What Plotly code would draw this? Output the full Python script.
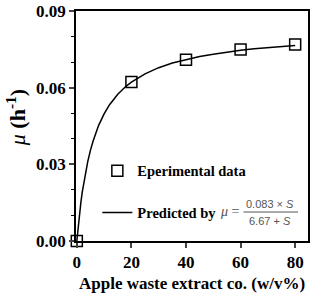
import plotly.graph_objects as go

# Experimental data
conc = [0, 20, 40, 60, 80]
mu_exp = [0.0, 0.0623, 0.0710, 0.0750, 0.0770]

# Predicted curve
conc_fit = [0, 0.5, 1, 1.5, 2, 3, 4, 5, 6, 8, 10, 12, 15, 18, 20, 25, 30, 35, 40, 45, 50, 55, 60, 65, 70, 75, 80]
mu_fit = [0.0, 0.0058, 0.0108, 0.0152, 0.0192, 0.0258, 0.0311, 0.0356, 0.0393, 0.0453, 0.0498, 0.0534, 0.0575, 0.0606, 0.0622, 0.0655, 0.0679, 0.0697, 0.0711, 0.0723, 0.0732, 0.0740, 0.0747, 0.0753, 0.0758, 0.0763, 0.0766]

x_ticks = [0, 20, 40, 60, 80]
y_ticks = [0.00, 0.03, 0.06, 0.09]
y_tick_labels = ["0.00", "0.03", "0.06", "0.09"]

serif = "Liberation Serif"

fig = go.Figure()
fig.add_trace(go.Scatter(
    x=conc_fit, y=mu_fit, mode="lines", name="<b>Predicted by</b>",
    line=dict(color="black", width=1.5), legendgroup="b", legendrank=2,
))
fig.add_trace(go.Scatter(
    x=conc, y=mu_exp, mode="markers", name="<b>Eperimental data</b>",
    marker=dict(symbol="square-open", size=11, color="black", line=dict(width=1.5, color="black")),
    cliponaxis=False, legendgroup="a", legendrank=1,
))

fig.update_layout(
    width=312, height=294,
    margin=dict(l=76, r=2, t=6, b=53),
    plot_bgcolor="white", paper_bgcolor="white",
    font=dict(family=serif, color="black"),
    showlegend=True,
    legend=dict(x=0.092, y=0.375, xanchor="left", yanchor="top",
                font=dict(family=serif, size=14.5, color="black"),
                bgcolor="rgba(0,0,0,0)", tracegroupgap=20, itemwidth=30),
    xaxis=dict(range=[-0.3, 84.7], tickvals=x_ticks, ticks="outside", ticklen=5, tickwidth=1.5,
               showline=True, linecolor="black", linewidth=1.8, mirror=True, showgrid=False, zeroline=False,
               tickfont=dict(family=serif, size=17, color="black", weight="bold")),
    yaxis=dict(range=[0, 0.0901], tickvals=y_ticks, ticktext=y_tick_labels, ticks="outside", ticklen=5, tickwidth=1.5,
               ticklabeloverflow="allow",
               showline=True, linecolor="black", linewidth=1.8, mirror=True, showgrid=False, zeroline=False,
               minor=dict(tickvals=[0.01, 0.02, 0.04, 0.05, 0.07, 0.08], ticks="outside", ticklen=3, tickwidth=1.2, tickcolor="black"),
               tickfont=dict(family=serif, size=17, color="black", weight="bold")),
)

# Axis titles
fig.add_annotation(xref="paper", yref="paper", x=(193 - 76) / 234, y=(241 - 284) / 235, xanchor="center", yanchor="middle",
                   text="<b>Apple waste extract co. (w/v%)</b>", showarrow=False,
                   font=dict(family=serif, size=17, color="black"))
fig.add_annotation(xref="paper", yref="paper", x=(15 - 76) / 234, y=(241 - 115) / 235, xanchor="center", yanchor="middle",
                   text="<i>μ</i> <b>(h<sup>-1</sup>)</b>", showarrow=False, textangle=-90,
                   font=dict(family=serif, size=22, color="black"))

gray = "#555"
# "μ =" and fraction of the model formula next to the legend
fig.add_annotation(xref="paper", yref="paper", x=(231 - 76) / 234, y=0.13, xanchor="center", yanchor="middle",
                   text="<i>μ</i> =", showarrow=False, font=dict(family=serif, size=14, color=gray))
fig.add_annotation(xref="paper", yref="paper", x=(272 - 76) / 234, y=0.162, xanchor="center", yanchor="middle",
                   text="0.083 × <i>S</i>", showarrow=False, font=dict(family="Liberation Sans", size=11, color=gray))
fig.add_annotation(xref="paper", yref="paper", x=(272 - 76) / 234, y=0.088, xanchor="center", yanchor="middle",
                   text="6.67 + <i>S</i>", showarrow=False, font=dict(family="Liberation Sans", size=11, color=gray))
fig.add_shape(type="line", xref="paper", yref="paper", x0=(245 - 76) / 234, x1=(300 - 76) / 234, y0=0.126, y1=0.126,
              line=dict(color=gray, width=1))

fig.write_html("out.html")
